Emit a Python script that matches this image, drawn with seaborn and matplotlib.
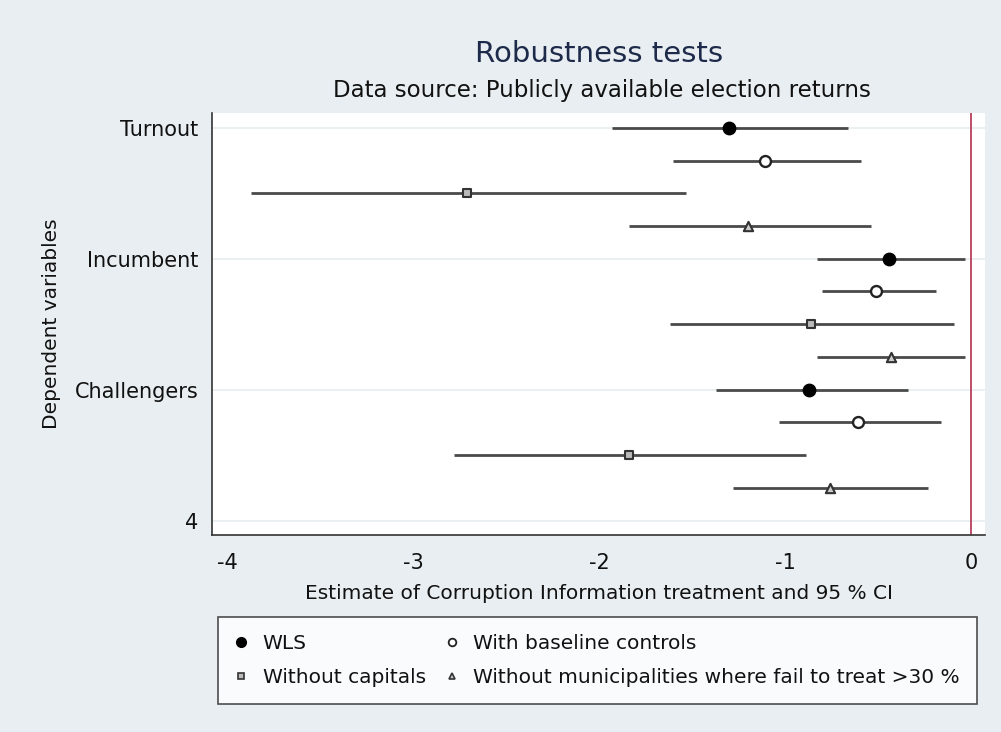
import numpy as np
import pandas as pd
import matplotlib
matplotlib.use("Agg")
import matplotlib.pyplot as plt
from matplotlib.lines import Line2D
import seaborn as sns

# dependent variables and specifications
outcomes = ["Turnout", "Incumbent", "Challengers"]
specs = ["WLS", "With baseline controls", "Without capitals",
         "Without municipalities where fail to treat >30 %"]

# estimates and 95% CI, one list per specification (Turnout, Incumbent, Challengers)
est_wls      = [-1.30, -0.44, -0.87]
lo_wls       = [-1.93, -0.83, -1.37]
hi_wls       = [-0.66, -0.03, -0.34]

est_base     = [-1.11, -0.51, -0.61]
lo_base      = [-1.60, -0.80, -1.03]
hi_base      = [-0.59, -0.19, -0.16]

est_cap      = [-2.71, -0.86, -1.84]
lo_cap       = [-3.87, -1.62, -2.78]
hi_cap       = [-1.53, -0.09, -0.89]

est_fail     = [-1.20, -0.43, -0.76]
lo_fail      = [-1.84, -0.83, -1.28]
hi_fail      = [-0.54, -0.03, -0.23]

ytick_vals   = [1, 2, 3, 4]
ytick_labels = ["Turnout", "Incumbent", "Challengers", "4"]
xtick_vals   = [-4, -3, -2, -1, 0]

rows = []
for s, (e, l, h) in enumerate([(est_wls, lo_wls, hi_wls),
                               (est_base, lo_base, hi_base),
                               (est_cap, lo_cap, hi_cap),
                               (est_fail, lo_fail, hi_fail)]):
    for i, o in enumerate(outcomes):
        rows.append({"spec": specs[s], "outcome": o, "pos": 1 + i + 0.25 * s,
                     "est": e[i], "lo": l[i], "hi": h[i]})
df = pd.DataFrame(rows)

BG = "#e8eef1"
sns.set_theme(style="white")
plt.rcParams["font.family"] = ["DejaVu Sans"]

fig = plt.figure(figsize=(10.01, 7.32), dpi=100, facecolor=BG)
ax = fig.add_axes([0.212, 0.269, 0.772, 0.577])
ax.set_facecolor("white")

for y in ytick_vals:
    ax.axhline(y, color="#e6eef0", lw=1.2, zorder=0)
ax.axvline(0, color="#b8405e", lw=1.3, zorder=1)

ax.hlines(df["pos"], df["lo"], df["hi"], color="#4a4a4a", lw=2, zorder=2)

styles = {
    specs[0]: dict(marker="o", s=80, facecolor="black", edgecolor="black", linewidth=1),
    specs[1]: dict(marker="o", s=62, facecolor="white", edgecolor="#222222", linewidth=1.7),
    specs[2]: dict(marker="s", s=30, facecolor="#bbbbbb", edgecolor="#333333", linewidth=1.5),
    specs[3]: dict(marker="^", s=45, facecolor="#cccccc", edgecolor="#333333", linewidth=1.5),
}
for sp in specs:
    sub = df[df["spec"] == sp]
    sns.scatterplot(data=sub, x="est", y="pos", ax=ax, zorder=3, legend=False, **styles[sp])

ax.set_xlim(-4.08, 0.075)
ax.set_ylim(4.11, 0.885)
ax.set_xticks(xtick_vals)
ax.set_xticklabels([str(v) for v in xtick_vals])
ax.set_yticks(ytick_vals)
ax.set_yticklabels(ytick_labels)
ax.tick_params(axis="both", which="both", direction="out", length=7, width=1,
               color="#333333", labelsize=15, pad=3, labelcolor="#111111")
ax.tick_params(axis="x", pad=6)

for side in ["top", "right"]:
    ax.spines[side].set_visible(False)
for side in ["left", "bottom"]:
    ax.spines[side].set_color("#333333")
    ax.spines[side].set_linewidth(1.2)

ax.set_xlabel("Estimate of Corruption Information treatment and 95 % CI", fontsize=14.5,
              color="#111111")
ax.set_ylabel("Dependent variables", fontsize=14.5, color="#111111")
ax.xaxis.set_label_coords(0.5, -0.115)
ax.yaxis.set_label_coords(-0.196, 0.5)

fig.text(0.598, 0.926, "Robustness tests", ha="center", va="center",
         fontsize=21, color="#1e2a4a")
fig.text(0.601, 0.877, "Data source: Publicly available election returns",
         ha="center", va="center", fontsize=16.5, color="#111111")

handles = [
    Line2D([], [], ls="none", marker="o", ms=7, mfc="black", mec="black"),
    Line2D([], [], ls="none", marker="s", ms=4.5, mfc="#bbbbbb", mec="#333333", mew=1.2),
    Line2D([], [], ls="none", marker="o", ms=5.5, mfc="white", mec="#222222", mew=1.3),
    Line2D([], [], ls="none", marker="^", ms=5, mfc="#cccccc", mec="#333333", mew=1.2),
]
labels = [specs[0], specs[2], specs[1], specs[3]]
leg = fig.legend(handles, labels, ncol=2, loc="upper left",
                 bbox_to_anchor=(0.218, 0.157), frameon=True, fancybox=False,
                 fontsize=14.5, handlelength=0.6, handletextpad=0.75, columnspacing=1.0,
                 borderpad=0.85, labelspacing=0.75, borderaxespad=0)
leg.get_frame().set_edgecolor("#222222")
leg.get_frame().set_linewidth(1.2)
leg.get_frame().set_facecolor("white")
for t in leg.get_texts():
    t.set_color("#111111")

fig.savefig("out.png", dpi=100, facecolor=BG)
